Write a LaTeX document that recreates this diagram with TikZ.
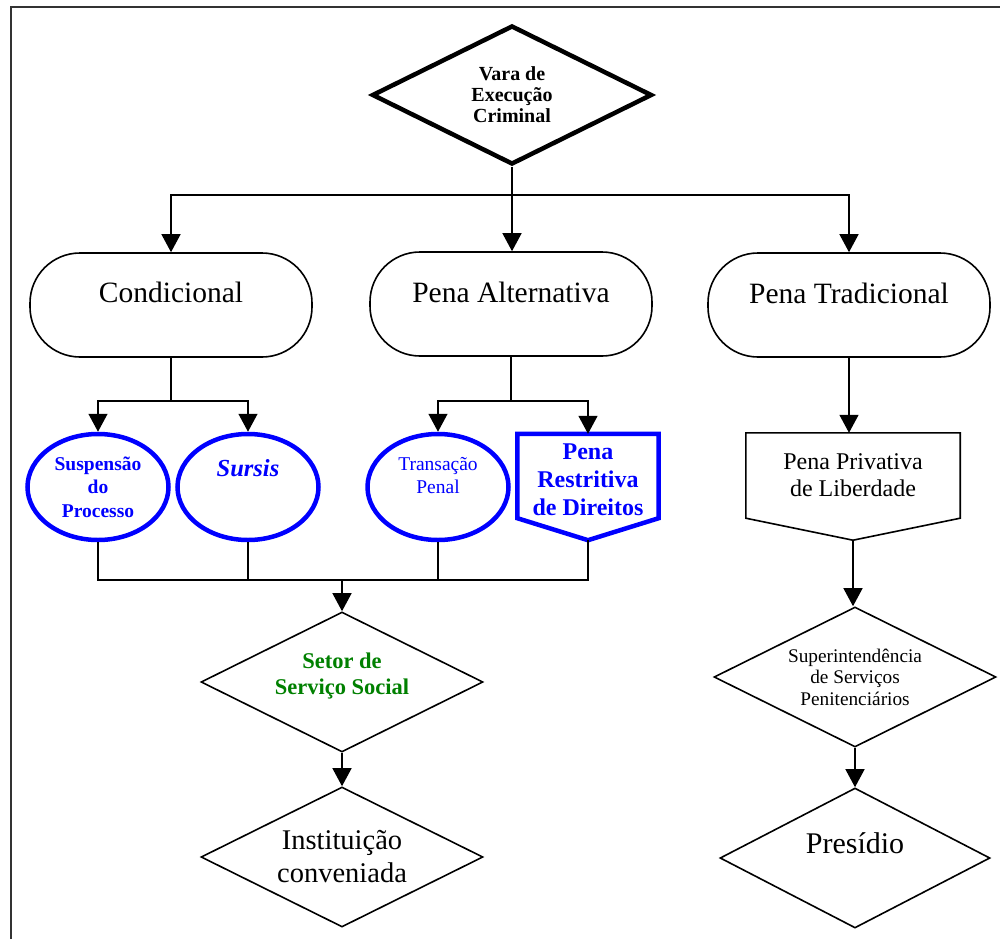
\documentclass[tikz,border=0pt]{standalone}
\usepackage{fontspec}
\setmainfont{Liberation Serif}
\usetikzlibrary{arrows.meta,shapes.geometric}
\definecolor{setorgreen}{RGB}{0,128,0}
\newcommand{\myfs}[2]{\fontsize{#1}{#2}\selectfont}
\begin{document}
\begin{tikzpicture}[x=1pt,y=-1pt,
  conn/.style={line width=1.4pt},
  arr/.style={line width=1.4pt,-{Triangle[length=18pt,width=19pt]}},
  stadium/.style={draw,line width=1.6pt,rounded corners=50pt,minimum width=282pt,minimum height=104pt,inner sep=0pt},
  dia/.style={draw,diamond,aspect=2,line width=1.6pt,inner sep=0pt,minimum width=282pt,minimum height=140pt},
  blueell/.style={draw=blue,ellipse,line width=4.5pt,minimum width=141pt,minimum height=106pt,inner sep=0pt},
  plainbox/.style={inner sep=0pt},
  txt/.style={align=center,inner sep=0pt}
]
\useasboundingbox (0,0) rectangle (1000,939);
% frame
\draw[line width=2pt,black!80] (11,939) -- (11,7) -- (1000,7);

% top
\node[draw,diamond,aspect=2,line width=4.5pt,inner sep=0pt,minimum width=280pt,minimum height=139pt,align=center,font=\bfseries\myfs{20}{21}] (vec) at (512,95) {Vara de\\Execução\\Criminal};

% stadiums
\node[stadium] (cond) at (171,305) {};
\node[txt,font=\myfs{29.5}{34}] (condt) at (171,292) {Condicional};
\node[stadium] (pa) at (511,304) {};
\node[txt,font=\myfs{29.5}{34}] (pat) at (511,292) {Pena Alternativa};
\node[stadium] (pt) at (849,305) {};
\node[txt,font=\myfs{29.5}{34}] (ptt) at (849,293) {Pena Tradicional};

% blue row
\node[blueell,align=center,text=blue,font=\bfseries\myfs{19.5}{23.5}] (susp) at (98,487) {Suspensão\\do\\Processo};
\node[blueell] (sursis) at (248,487) {};
\node[txt,text=blue,font=\bfseries\itshape\myfs{24.5}{28}] (sursist) at (248,468) {Sursis};
\node[blueell] (trans) at (438,487) {};
\node[txt,text=blue,font=\myfs{19.5}{23}] (transt) at (438,476) {Transação\\Penal};
\node[plainbox,minimum width=141pt,minimum height=106pt] (prd) at (588,487) {};
\draw[blue,line width=4.5pt] (prd.north west) -- (prd.north east) -- ([yshift=22pt]prd.south east) -- (prd.south) -- ([yshift=22pt]prd.south west) -- cycle;
\node[txt,text=blue,font=\bfseries\myfs{24}{28}] (prdt) at (588,480) {Pena\\Restritiva\\de Direitos};

% right column
\node[plainbox,minimum width=214pt,minimum height=107pt] (ppl) at (853,486.5) {};
\draw[line width=1.6pt] (ppl.north west) -- (ppl.north east) -- ([yshift=22pt]ppl.south east) -- (ppl.south) -- ([yshift=22pt]ppl.south west) -- cycle;
\node[txt,font=\myfs{24}{26.5}] (pplt) at (853,475) {Pena Privativa\\de Liberdade};
\node[dia,align=center,font=\myfs{19.3}{21.5}] (sup) at (855,677) {Superintendência\\de Serviços\\Penitenciários};
\node[dia,minimum width=270pt] (pres) at (855,858) {};
\node[txt,font=\myfs{30}{34}] (prest) at (855,843) {Presídio};

% left bottom
\node[dia] (setor) at (342,682) {};
\node[txt,text=setorgreen,font=\bfseries\myfs{22.5}{26}] (setort) at (342,676) {Setor de\\Serviço Social};
\node[dia,align=center,font=\myfs{28.5}{33}] (inst) at (342,857) {Instituição\\conveniada};

% connectors
\coordinate (b1) at (512,195);
\draw[conn] (vec.south) -- (b1);
\draw[arr] (b1) -- (b1 |- pa.north);
\draw[arr] (b1) -| (cond.north);
\draw[arr] (b1) -| (pt.north);

\coordinate (b2) at (171,401);
\draw[conn] (cond.south) -- (b2);
\draw[arr] (b2) -| (susp.north);
\draw[arr] (b2) -| (sursis.north);

\coordinate (b3) at (511,401);
\draw[conn] (pa.south) -- (b3);
\draw[arr] (b3) -| (trans.north);
\draw[arr] (b3) -| (prd.north);

\coordinate (b4) at (342,580);
\draw[conn] (susp.south) |- (b4);
\draw[conn] (sursis.south) |- (b4);
\draw[conn] (trans.south) |- (b4);
\draw[conn] (prd.south) |- (b4);
\draw[arr] (b4) -- (setor.north);
\draw[arr] (setor.south) -- (inst.north);

\draw[arr] (pt.south) -- (pt.south |- ppl.north);
\draw[arr] (ppl.south) -- (ppl.south |- sup.north);
\draw[arr] (sup.south) -- (pres.north);
\end{tikzpicture}
\end{document}
